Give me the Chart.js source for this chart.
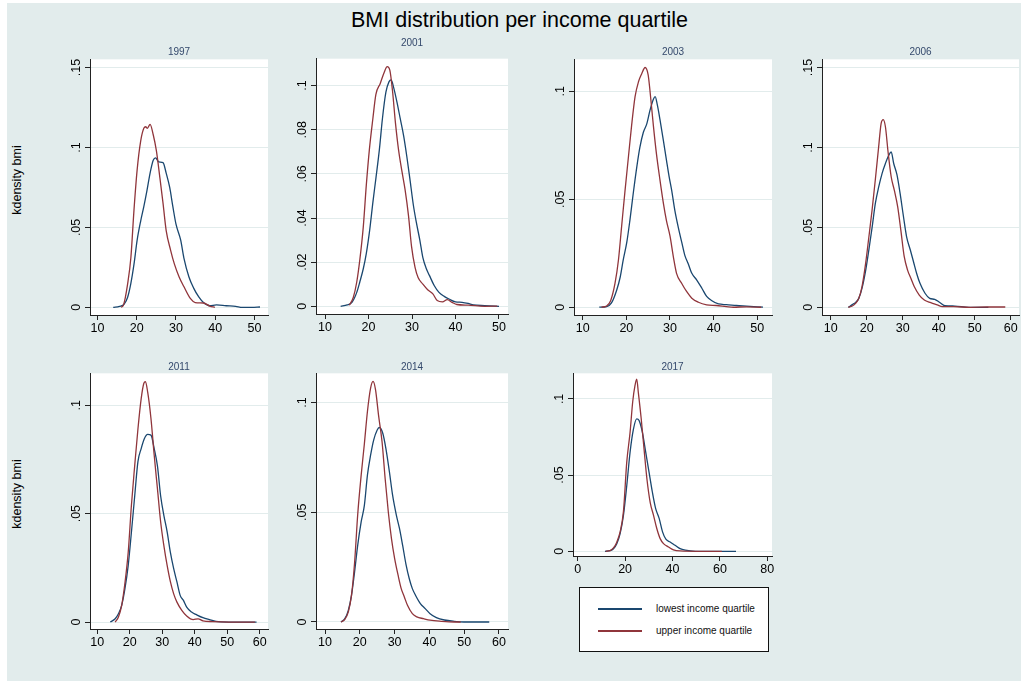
<!DOCTYPE html>
<html lang="en">
<head>
<meta charset="UTF-8">
<title>BMI distribution per income quartile</title>
<script src="https://cdn.jsdelivr.net/npm/chart.js"></script>
<style>
  body { margin: 0; background: #fff; font-family: "Liberation Sans", Arial, sans-serif; }
  #page { position: relative; width: 1023px; height: 685px; overflow: hidden; }
  #bg { position: absolute; left: 7px; top: 3px; width: 1014px; height: 678px; background: #e2ecec; }
  #title { position: absolute; left: 8px; top: 7px; width: 1023px; text-align: center; font-size: 21.5px; line-height: 26px; color: #000; }
  .ytitle { position: absolute; width: 100px; height: 14px; line-height: 14px; text-align: center; font-size: 12.5px; color: #000; transform: rotate(-90deg); white-space: nowrap; }
  canvas { position: absolute; }
  #legend { position: absolute; left: 579px; top: 587px; width: 188px; height: 63px; border: 1px solid #111; background: #fff; }
  #legend .ln { position: absolute; left: 18px; width: 44px; height: 1.5px; }
  #legend .tx { position: absolute; left: 76px; font-size: 10px; line-height: 12px; color: #111; white-space: nowrap; }
</style>
</head>
<body>
<div id="page">
  <div id="bg"></div>
  <div id="title">BMI distribution per income quartile</div>
  <div class="ytitle" style="left:-33px; top:173px;">kdensity bmi</div>
  <div class="ytitle" style="left:-33px; top:487px;">kdensity bmi</div>
  <div id="legend">
    <div class="ln" style="top:20px; background:#1a476f;"></div>
    <div class="tx" style="top:15px;">lowest income quartile</div>
    <div class="ln" style="top:42px; background:#90353b;"></div>
    <div class="tx" style="top:37px;">upper income quartile</div>
  </div>
</div>
<script>
// kernel density of bmi, [bmi, density]
const low1997 = [[14.0,0],[15.6,0.0006],[16.8,0.002],[17.7,0.0065],[18.5,0.015],[19.3,0.027],[20.1,0.042],[21.0,0.054],[21.8,0.063],[22.6,0.073],[23.4,0.084],[24.2,0.092],[24.8,0.0935],[25.6,0.091],[26.7,0.0905],[27.5,0.084],[28.4,0.075],[29.2,0.063],[30.0,0.052],[31.2,0.042],[32.0,0.031],[33.3,0.019],[34.5,0.012],[35.8,0.0065],[37.0,0.003],[38.6,0.001],[40.3,0.0015],[42.8,0.001],[45.2,0.0006],[46.9,0],[49.3,0],[51.4,0.0002]];
const up1997 = [[16.0,0],[16.6,0.0013],[17.7,0.015],[18.5,0.031],[19.3,0.061],[20.1,0.086],[21.0,0.104],[21.8,0.112],[22.3,0.113],[22.7,0.112],[23.4,0.1145],[24.2,0.108],[25.0,0.098],[25.9,0.081],[26.7,0.065],[27.5,0.048],[28.6,0.036],[29.6,0.027],[30.8,0.019],[32.0,0.013],[33.7,0.0054],[34.9,0.003],[37.0,0.0027],[38.6,0.0008],[39.9,0]];

const low2001 = [[13.6,0],[15.1,0.0006],[16.2,0.0018],[17.3,0.0063],[18.0,0.011],[18.8,0.017],[19.5,0.024],[20.3,0.035],[21.0,0.047],[21.7,0.058],[22.5,0.071],[23.2,0.085],[24.0,0.097],[24.7,0.1017],[25.2,0.1026],[25.8,0.099],[26.6,0.092],[27.3,0.085],[28.1,0.077],[28.8,0.068],[29.5,0.058],[30.3,0.046],[31.0,0.038],[31.8,0.030],[32.5,0.022],[33.3,0.017],[34.0,0.014],[35.1,0.0094],[36.2,0.0063],[37.4,0.0045],[38.5,0.0033],[40.0,0.002],[41.5,0.0018],[42.9,0.0013],[44.1,0.0006],[46.7,0.0003],[50.0,0]];
const up2001 = [[15.6,0.0005],[16.5,0.004],[17.3,0.011],[18.0,0.021],[18.8,0.036],[19.5,0.055],[20.2,0.071],[21.0,0.085],[21.7,0.096],[22.7,0.101],[23.6,0.106],[24.3,0.1086],[24.9,0.107],[25.5,0.098],[26.2,0.083],[26.9,0.071],[27.7,0.061],[28.4,0.053],[29.2,0.041],[29.9,0.027],[30.7,0.0176],[31.4,0.013],[32.5,0.010],[33.6,0.0075],[34.8,0.0056],[35.8,0.0026],[37.0,0.002],[38.1,0.003],[39.2,0.0018],[40.3,0.0008],[42.9,0.0005],[46.7,0],[49.6,0.0001]];

const low2003 = [[13.8,0],[15.5,0.0003],[16.6,0.002],[17.8,0.008],[18.6,0.014],[19.3,0.022],[20.1,0.030],[20.8,0.040],[21.6,0.053],[22.4,0.065],[23.1,0.074],[23.9,0.081],[24.7,0.085],[25.4,0.091],[26.2,0.0963],[26.6,0.0975],[27.1,0.0937],[27.7,0.087],[28.5,0.077],[29.2,0.068],[29.8,0.0605],[30.4,0.054],[31.1,0.045],[31.9,0.037],[32.7,0.030],[33.4,0.024],[34.2,0.020],[35.0,0.0157],[36.1,0.0127],[37.3,0.0088],[38.4,0.005],[39.6,0.003],[41.1,0.0015],[42.9,0.0012],[45.2,0.0008],[47.5,0.0005],[51.3,0]];
const up2003 = [[14.3,0],[15.5,0.0006],[16.4,0.003],[17.4,0.011],[18.2,0.022],[18.9,0.037],[19.7,0.054],[20.5,0.070],[21.2,0.084],[22.0,0.0975],[22.8,0.1045],[23.5,0.108],[24.3,0.111],[25.0,0.1076],[25.4,0.1006],[26.2,0.084],[26.9,0.071],[27.7,0.059],[28.5,0.048],[29.2,0.040],[30.0,0.033],[30.8,0.023],[31.5,0.0157],[32.7,0.011],[33.8,0.0073],[35.0,0.0042],[36.5,0.0023],[38.4,0.0011],[40.6,0.0008],[42.9,0.0003],[44.5,0],[47.5,0.0002],[50.9,0]];

const low2006 = [[14.9,0],[16.0,0.0017],[16.9,0.003],[17.8,0.0056],[18.7,0.012],[19.7,0.023],[20.6,0.036],[21.5,0.050],[22.4,0.065],[23.3,0.075],[24.3,0.084],[25.2,0.090],[26.1,0.095],[26.8,0.0973],[27.5,0.090],[28.4,0.083],[29.3,0.071],[30.2,0.057],[31.1,0.044],[32.1,0.036],[33.0,0.0285],[33.9,0.021],[34.8,0.015],[36.2,0.0088],[37.5,0.0056],[38.9,0.005],[40.3,0.003],[41.7,0.001],[44.5,0.0008],[48.2,0],[51.9,0],[53.8,0]];
const up2006 = [[14.9,0],[16.0,0.0008],[16.9,0.0025],[17.8,0.0056],[18.7,0.013],[19.7,0.0275],[20.6,0.044],[21.5,0.061],[22.4,0.080],[23.3,0.100],[24.0,0.115],[24.6,0.1175],[25.2,0.113],[25.9,0.098],[26.8,0.0817],[27.7,0.073],[28.6,0.063],[29.5,0.048],[30.4,0.032],[31.4,0.023],[32.3,0.018],[33.2,0.013],[34.6,0.0077],[36.0,0.0046],[37.8,0.0029],[39.6,0.0015],[41.0,0.0004],[44.2,0.0004],[48.8,0],[53.4,0.0002],[58.5,0.0002]];

const low2011 = [[14.0,0],[15.5,0.0015],[16.5,0.0038],[17.5,0.0077],[18.5,0.0154],[19.5,0.026],[20.5,0.0415],[21.5,0.058],[22.5,0.074],[23.5,0.080],[24.5,0.0846],[25.5,0.0865],[26.5,0.0862],[27.5,0.080],[28.5,0.072],[29.5,0.058],[30.5,0.049],[31.5,0.0415],[32.5,0.032],[33.5,0.0246],[34.5,0.0185],[35.5,0.0123],[36.5,0.010],[37.5,0.0069],[39.0,0.0046],[40.5,0.0034],[42.5,0.002],[44.5,0.0011],[46.5,0.0003],[50.5,0],[59.0,0]];
const up2011 = [[15.5,0],[16.5,0.0023],[17.5,0.0077],[18.5,0.018],[19.5,0.032],[20.5,0.054],[21.5,0.072],[22.5,0.089],[23.5,0.103],[24.3,0.110],[24.8,0.1108],[25.5,0.106],[26.5,0.094],[27.5,0.077],[28.5,0.0615],[29.5,0.046],[30.5,0.035],[31.5,0.026],[32.5,0.0185],[33.5,0.013],[34.5,0.0092],[36.0,0.0054],[37.5,0.0028],[39.5,0.0011],[41.0,0.0015],[42.5,0.0006],[45.5,0.0002],[50.5,0],[58.5,0]];

const low2014 = [[14.6,0],[15.7,0.0015],[16.7,0.0053],[17.6,0.012],[18.5,0.0228],[19.4,0.035],[20.4,0.0457],[21.3,0.053],[22.2,0.067],[23.1,0.076],[24.0,0.083],[25.0,0.0875],[25.6,0.0886],[26.6,0.086],[27.5,0.079],[28.5,0.0685],[29.4,0.058],[30.5,0.0487],[31.4,0.0426],[32.3,0.035],[33.3,0.026],[34.2,0.0198],[35.1,0.0152],[36.0,0.0122],[37.4,0.0084],[38.8,0.0061],[40.2,0.0038],[42.0,0.002],[44.3,0.0009],[47.1,0.0003],[49.9,0],[57.2,0]];
const up2014 = [[14.6,0],[15.7,0.0012],[16.7,0.0046],[17.6,0.012],[18.5,0.027],[19.4,0.049],[20.4,0.067],[21.3,0.081],[22.2,0.096],[23.1,0.1065],[23.8,0.1096],[24.5,0.106],[25.4,0.094],[26.4,0.082],[27.3,0.065],[28.2,0.050],[29.1,0.038],[30.0,0.029],[31.0,0.0213],[31.9,0.0152],[32.8,0.0114],[33.7,0.0076],[35.1,0.0038],[36.4,0.0023],[38.3,0.0015],[40.2,0.0008],[43.4,0.0003],[47.1,0],[49.0,0]];

const low2017 = [[11.5,0],[13.7,0.0004],[15.1,0.0017],[16.5,0.005],[17.9,0.0116],[19.3,0.0236],[20.7,0.043],[22.1,0.065],[23.5,0.080],[24.9,0.0869],[25.9,0.0858],[27.3,0.078],[28.7,0.065],[30.1,0.052],[31.5,0.0389],[32.9,0.028],[34.4,0.0214],[35.8,0.0127],[37.2,0.0079],[39.0,0.0061],[41.1,0.0039],[43.2,0.0017],[45.4,0.0007],[49.6,0],[56.6,0],[66.8,0]];
const up2017 = [[11.8,0],[13.7,0.0004],[15.1,0.0022],[16.5,0.006],[17.9,0.0127],[19.3,0.026],[20.7,0.0585],[22.1,0.078],[23.2,0.098],[24.2,0.109],[24.9,0.113],[25.6,0.104],[26.8,0.087],[28.0,0.067],[29.2,0.0476],[30.6,0.032],[32.0,0.0236],[33.4,0.0148],[34.8,0.0083],[36.2,0.005],[38.3,0.0028],[40.4,0.0009],[43.2,0.0002],[51.0,0],[60.8,0]];

// tick labels
const xTicks50 = [10, 20, 30, 40, 50];
const xTicks60 = [10, 20, 30, 40, 50, 60];
const xTicks80 = [0, 20, 40, 60, 80];
const yTicks15 = [0, 0.05, 0.1, 0.15];
const yTicks10 = [0, 0.05, 0.1];
const yTicks2001 = [0, 0.02, 0.04, 0.06, 0.08, 0.1];

const seriesNames = ['lowest income quartile', 'upper income quartile'];

// page layout: plot box [left, top, right, bottom], axis ranges, gap under the year
const panels = [
  { year: '1997', low: low1997, up: up1997, xt: xTicks50, yt: yTicks15,  box: [90, 59, 268, 315],  xr: [8.09, 53.44],  yr: [-0.0048, 0.1552], tb: 1.3 },
  { year: '2001', low: low2001, up: up2001, xt: xTicks50, yt: yTicks2001, box: [316, 59, 508, 315], xr: [7.93, 52.07],  yr: [-0.0035, 0.1122], tb: 9.7 },
  { year: '2003', low: low2003, up: up2003, xt: xTicks50, yt: yTicks10,  box: [574, 59, 772, 315],  xr: [8.01, 53.37],  yr: [-0.0036, 0.1148], tb: 1.3 },
  { year: '2006', low: low2006, up: up2006, xt: xTicks60, yt: yTicks15,  box: [822, 59, 1019, 315], xr: [7.58, 62.31],  yr: [-0.0048, 0.1552], tb: 1.3 },
  { year: '2011', low: low2011, up: up2011, xt: xTicks60, yt: yTicks10,  box: [90, 373, 268, 629],  xr: [7.75, 62.52],  yr: [-0.0032, 0.1147], tb: 0.3 },
  { year: '2014', low: low2014, up: up2014, xt: xTicks60, yt: yTicks10,  box: [316, 373, 508, 629], xr: [7.41, 62.59],  yr: [-0.0032, 0.1133], tb: 0.3 },
  { year: '2017', low: low2017, up: up2017, xt: xTicks80, yt: yTicks10,  box: [573, 373, 772, 556], xr: [-1.98, 81.98], yr: [-0.0031, 0.1168], tb: 0.3 }
];

const FONT = '"Liberation Sans", Arial, sans-serif';
const NAVY = '#1a476f';
const MAROON = '#90353b';
const GRID = '#e2ecec';
const Y_W = 45, X_H = 30, PAD_T = 2, PAD_R = 10, TITLE_H = 12;

// white plot region
const plotBg = {
  id: 'plotBg',
  beforeDraw(chart) {
    const a = chart.chartArea;
    const ctx = chart.ctx;
    ctx.save();
    ctx.fillStyle = '#fff';
    ctx.fillRect(a.left, a.top, a.right - a.left, a.bottom - a.top);
    ctx.restore();
  }
};

function stataNum(v) {
  return String(+v.toFixed(4)).replace(/^0\./, '.');
}

function toPts(arr) {
  return arr.map(p => ({ x: p[0], y: p[1] }));
}

const page = document.getElementById('page');

panels.forEach(p => {
  const [L, T, R, B] = p.box;
  const cv = document.createElement('canvas');
  const w = R - L + Y_W + PAD_R;
  const h = B - T + X_H + PAD_T + TITLE_H + p.tb;
  cv.width = w;
  cv.height = h;
  cv.style.left = (L - Y_W) + 'px';
  cv.style.top = (T - PAD_T - TITLE_H - p.tb) + 'px';
  page.appendChild(cv);

  new Chart(cv, {
    type: 'line',
    data: {
      datasets: [
        { label: seriesNames[0], data: toPts(p.low), borderColor: NAVY, borderWidth: 1.3, order: 1 },
        { label: seriesNames[1], data: toPts(p.up), borderColor: MAROON, borderWidth: 1.3, order: 0 }
      ]
    },
    options: {
      responsive: false,
      animation: false,
      events: [],
      layout: { padding: { top: PAD_T, right: PAD_R, bottom: 0, left: 0 } },
      elements: {
        point: { radius: 0 },
        line: { cubicInterpolationMode: 'monotone', fill: false }
      },
      scales: {
        x: {
          type: 'linear',
          min: p.xr[0],
          max: p.xr[1],
          afterBuildTicks: s => { s.ticks = p.xt.map(v => ({ value: v })); },
          afterFit: s => { s.height = X_H; },
          grid: { drawOnChartArea: false, drawTicks: true, tickLength: 5, tickColor: '#222' },
          border: { display: true, color: '#222', width: 1 },
          ticks: { color: '#000', font: { family: FONT, size: 12.5 }, padding: 1, maxRotation: 0, callback: v => String(v) }
        },
        y: {
          type: 'linear',
          min: p.yr[0],
          max: p.yr[1],
          afterBuildTicks: s => { s.ticks = p.yt.map(v => ({ value: v })); },
          afterFit: s => { s.width = Y_W; },
          grid: { color: GRID, lineWidth: 1, drawTicks: true, tickLength: 5, tickColor: '#222' },
          border: { display: true, color: '#222', width: 1 },
          ticks: { color: '#000', font: { family: FONT, size: 12.5 }, padding: 0, minRotation: 90, maxRotation: 90, crossAlign: 'center', callback: v => stataNum(v) }
        }
      },
      plugins: {
        legend: { display: false },
        tooltip: { enabled: false },
        title: {
          display: true,
          text: p.year,
          fullSize: false,
          color: '#34496c',
          font: { family: FONT, size: 10, weight: 'normal', lineHeight: 1.2 },
          padding: { top: 0, bottom: p.tb }
        }
      }
    },
    plugins: [plotBg]
  });
});
</script>
</body>
</html>
